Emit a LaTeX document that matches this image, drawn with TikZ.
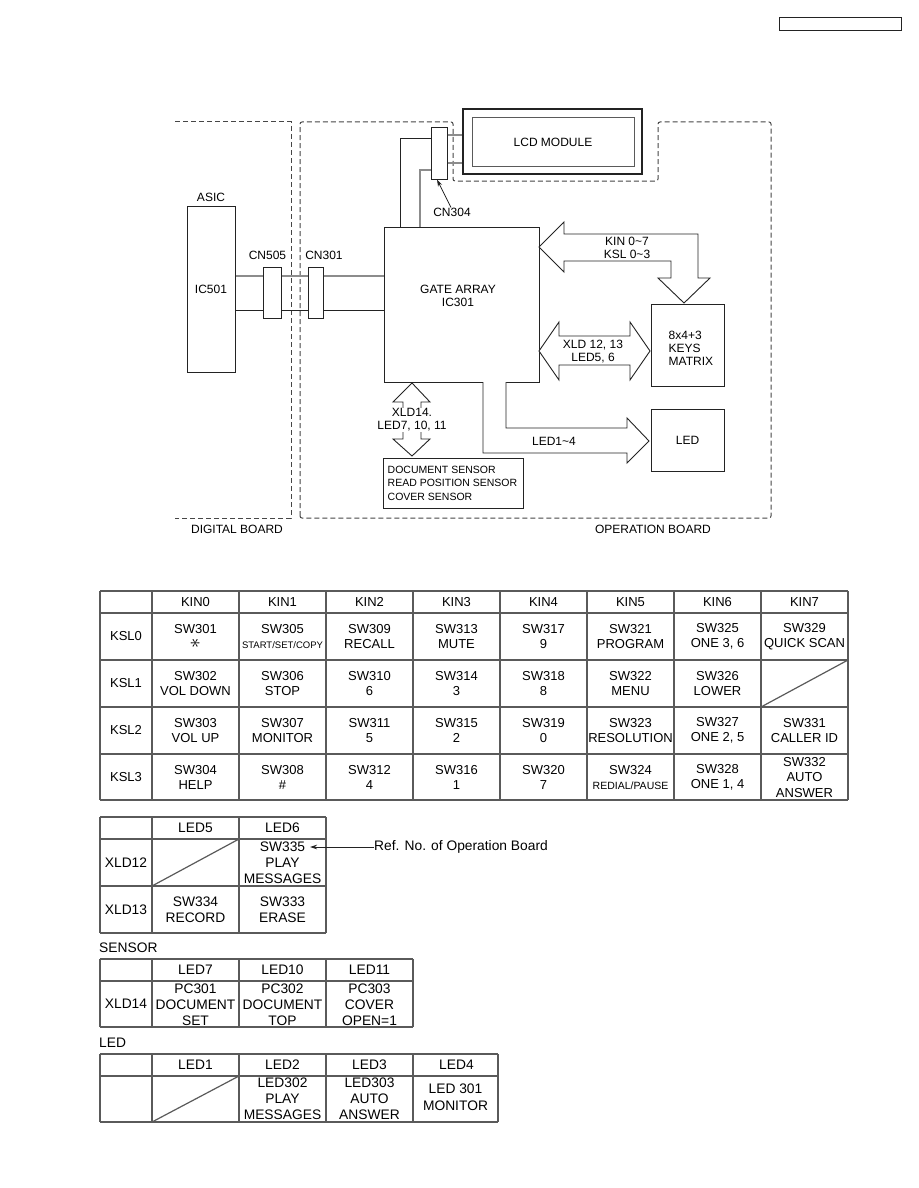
\documentclass[tikz,border=0pt]{standalone}
\usepackage{fontspec}
\setmainfont{Liberation Sans}
\usetikzlibrary{arrows.meta, positioning, calc}
\definecolor{mydark}{RGB}{35,35,35}
\definecolor{mygrid}{RGB}{90,90,90}
\definecolor{mydash}{RGB}{70,70,70}
\definecolor{mygray}{RGB}{140,140,140}
\newcommand{\dgfont}{\fontsize{12}{13}\selectfont}
\newcommand{\snfont}{\fontsize{10.5}{13.5}\selectfont}
\newcommand{\tabfont}{\fontsize{13}{15.5}\selectfont}
\newcommand{\subfont}{\fontsize{13.8}{16}\selectfont}
\tikzset{
  box/.style={rectangle, draw=mydark, line width=1pt, inner sep=0pt, font=\dgfont},
  conn/.style={rectangle, draw=mydark, line width=1pt, inner sep=0pt,
    minimum width=16pt, minimum height=51pt},
  wire/.style={draw=mydark, line width=1pt},
  gwire/.style={draw=mygray, line width=1.4pt},
  board/.style={draw=mydash, line width=1pt, dash pattern=on 5pt off 3pt},
  bus/.style={draw=mydark, line width=0.9pt, fill=white, line join=miter},
  lbl/.style={font=\dgfont, inner sep=0pt, align=center},
  ptr/.style={-{Stealth[length=7pt, width=4.5pt]}, draw=mydark, line width=0.8pt},
  grid/.style={draw=mygrid, line width=1.2pt},
  cell/.style={font=\tabfont, inner sep=0pt, align=center},
  subcell/.style={font=\subfont, inner sep=0pt, align=center}
}
\begin{document}
\begin{tikzpicture}[x=1pt, y=-1pt]
  \useasboundingbox[fill=white] (0,0) rectangle (918,1188);

  % page reference box
  \node[box, line width=1.3pt, minimum width=122pt, minimum height=13pt] (pagebox) at (840.5,24) {};

  % Board outlines
  \draw[board] (175,122) -- (291,122) -- (291,518) -- (175,518);
  \draw[board, rounded corners=2pt] (300,518) -- (300,122) -- (453,122) -- (453,181)
    -- (658,181) -- (658,122) -- (771,122) -- (771,518) -- cycle;
  \node[lbl] (digital) at (237,529) {DIGITAL BOARD};
  \node[lbl] (operation) at (653,529) {OPERATION BOARD};

  % ASIC and connectors
  \node[box, minimum width=48pt, minimum height=166pt] (asic) at (211,289) {IC501};
  \node[lbl, above=4pt of asic] (asiclbl) {ASIC};
  \node[conn, minimum width=18pt] (cn505) at (272,292.5) {};
  \node[conn, minimum width=15pt] (cn301) at (315.5,292.5) {};
  \node[lbl] (cn505lbl) at (267.5,255) {CN505};
  \node[lbl] (cn301lbl) at (324,255) {CN301};

  % Gate array
  \node[box, minimum width=155pt, minimum height=155pt] (gate) at (461.5,304.5) {};
  \node[lbl] (gatetxt) at (458,296) {GATE ARRAY\\IC301};

  \draw[gwire] (asic.east|-0,276) -- (cn505.west|-0,276)
    (cn505.east|-0,276) -- (cn301.west|-0,276)
    (cn301.east|-0,276) -- (gate.west|-0,276);
  \draw[wire] (asic.east|-0,310) -- (cn505.west|-0,310)
    (cn505.east|-0,310) -- (cn301.west|-0,310)
    (cn301.east|-0,310) -- (gate.west|-0,310);

  % LCD module
  \node[conn] (cn304) at (439,153.5) {};
  \node[box, line width=1.4pt, minimum width=179pt, minimum height=65pt] (lcd) at (552.5,141.5) {};
  \node[box, draw=mygrid, minimum width=162pt, minimum height=48pt] (lcdin) at (553,142) {LCD MODULE};
  \draw[gwire] (cn304.east|-0,135) -- (lcd.west|-0,135)
    (cn304.east|-0,163) -- (lcd.west|-0,163);
  \draw[wire] (gate.north-|400,0) |- (cn304.west|-0,139);
  \draw[gwire] (gate.north-|420,0) |- (cn304.west|-0,170);
  \node[lbl] (cn304lbl) at (452,212) {CN304};
  \draw[ptr] ([xshift=-1pt]cn304lbl.north) -- ([xshift=-2pt]cn304.south);

  % Keys matrix and LED
  \node[box, minimum width=73pt, minimum height=82pt] (keys) at (687.5,345) {};
  \node[lbl, align=left, anchor=west] (keystxt) at ([xshift=18pt,yshift=-3pt]keys.west) {8x4+3\\KEYS\\MATRIX};
  \node[box, minimum width=73pt, minimum height=62pt] (led) at (687.5,440) {LED};

  % Sensors
  \node[box, minimum width=140pt, minimum height=50pt] (sensor) at (453,483) {};
  \node[font=\snfont, inner sep=0pt, align=left, anchor=west] (sensortxt) at ([xshift=5pt]sensor.west)
    {DOCUMENT SENSOR\\READ POSITION SENSOR\\COVER SENSOR};

  % Buses
  \draw[bus] (539,247) -- (564,222) -- (564,234) -- (698,234) -- (698,278) -- (710,278)
    -- (684,303) -- (658,278) -- (671,278) -- (671,261) -- (564,261) -- (564,272) -- cycle;
  \node[lbl] (kinlbl) at (627,247.5) {KIN 0\textasciitilde 7\\KSL 0\textasciitilde 3};

  \draw[bus] (539,351) -- (559,322) -- (559,336) -- (630,336) -- (630,322) -- (650,351)
    -- (630,380) -- (630,365) -- (559,365) -- (559,380) -- cycle;
  \node[lbl] (xldlbl) at (593,351.5) {XLD 12, 13\\LED5, 6};

  \draw[bus] (483,382) -- (483,453) -- (627,453) -- (627,463) -- (649,441) -- (627,418)
    -- (627,428) -- (506,428) -- (506,382);
  \node[lbl] (ledlbl) at (554,441) {LED1\textasciitilde 4};

  \draw[bus] (412,383) -- (430,402) -- (421,402) -- (421,439) -- (430,439) -- (412,456)
    -- (393,439) -- (403,439) -- (403,402) -- (393,402) -- cycle;
  \node[lbl, fill=white, inner sep=1pt] (xld14lbl) at (412,420) {XLD14.\\LED7, 10, 11};

  % Key matrix table
  \foreach \x in {100,152,239,326,413,500,587,674,761,848}
    \draw[grid] (\x,591) -- (\x,800);
  \foreach \y in {591,613,660,707,754,800}
    \draw[grid] (100,\y) -- (848,\y);
  \draw[grid] (761,707) -- (848,660);
  \foreach \k in {0,...,7}
    \node[cell] (kin\k) at ({195.5+87*\k},602) {KIN\k};
  \foreach \j in {0,...,3}
    \node[cell] (ksl\j) at (126,{636.5+47*\j}) {KSL\j};
  \foreach \k/\j/\t in {
      0/0/{SW301\\\rotatebox{90}{\fontsize{22}{15.5}\selectfont$\ast$}}, 0/1/{SW302\\VOL DOWN}, 0/2/{SW303\\VOL UP}, 0/3/{SW304\\HELP},
      1/0/{SW305\\{\fontsize{9.5}{15.5}\selectfont START/SET/COPY}}, 1/1/{SW306\\STOP}, 1/2/{SW307\\MONITOR}, 1/3/{SW308\\\#},
      2/0/{SW309\\RECALL}, 2/1/{SW310\\6}, 2/2/{SW311\\5}, 2/3/{SW312\\4},
      3/0/{SW313\\MUTE}, 3/1/{SW314\\3}, 3/2/{SW315\\2}, 3/3/{SW316\\1},
      4/0/{SW317\\9}, 4/1/{SW318\\8}, 4/2/{SW319\\0}, 4/3/{SW320\\7},
      5/0/{SW321\\PROGRAM}, 5/1/{SW322\\MENU}, 5/2/{SW323\\RESOLUTION},
      5/3/{SW324\\{\fontsize{10.5}{15.5}\selectfont REDIAL/PAUSE}},
      6/0/{SW325\\ONE 3, 6}, 6/1/{SW326\\LOWER}, 6/2/{SW327\\ONE 2, 5}, 6/3/{SW328\\ONE 1, 4},
      7/0/{SW329\\QUICK SCAN}, 7/2/{SW331\\CALLER ID}, 7/3/{SW332\\AUTO\\ANSWER}}
    \node[cell] (sw\k\j) at ({195.5+87*\k},{636.5+47*\j}) {\t};

  % XLD12/13 table
  \foreach \x in {100,152,239,326}
    \draw[grid] (\x,817) -- (\x,933);
  \foreach \y in {817,839,886,933}
    \draw[grid] (100,\y) -- (326,\y);
  \draw[grid] (152,886) -- (239,839);
  \node[subcell] (led5) at (195.5,828) {LED5};
  \node[subcell] (led6) at (282.5,828) {LED6};
  \node[subcell] (xld12) at (126,862.5) {XLD12};
  \node[subcell] (xld13) at (126,909.5) {XLD13};
  \node[subcell] (sw335) at (282.5,862.5) {SW335\\PLAY\\MESSAGES};
  \node[subcell] (sw334) at (195.5,910) {SW334\\RECORD};
  \node[subcell] (sw333) at (282.5,910) {SW333\\ERASE};
  \node[subcell, anchor=west] (refno) at (374,847) {Ref. No. of Operation Board};
  \draw[ptr] (refno.west) -- +(-64,0);

  % Sensor table
  \node[subcell, anchor=west] (sensorhd) at (99,948) {SENSOR};
  \foreach \x in {100,152,239,326,413}
    \draw[grid] (\x,959) -- (\x,1027);
  \foreach \y in {959,981,1027}
    \draw[grid] (100,\y) -- (413,\y);
  \node[subcell] (led7) at (195.5,970) {LED7};
  \node[subcell] (led10) at (282.5,970) {LED10};
  \node[subcell] (led11) at (369.5,970) {LED11};
  \node[subcell] (xld14) at (126,1004) {XLD14};
  \node[subcell] (pc301) at (195.5,1004.5) {PC301\\DOCUMENT\\SET};
  \node[subcell] (pc302) at (282.5,1004.5) {PC302\\DOCUMENT\\TOP};
  \node[subcell] (pc303) at (369.5,1004.5) {PC303\\COVER\\OPEN=1};

  % LED table
  \node[subcell, anchor=west] (ledhd) at (99,1043) {LED};
  \foreach \x in {100,152,239,326,413,498}
    \draw[grid] (\x,1054) -- (\x,1122);
  \foreach \y in {1054,1076,1122}
    \draw[grid] (100,\y) -- (498,\y);
  \draw[grid] (152,1122) -- (239,1076);
  \foreach \k in {1,...,4}
    \node[subcell] (ledh\k) at ({108.5+87*\k},1065) {LED\k};
  \node[subcell] (led302) at (282.5,1099) {LED302\\PLAY\\MESSAGES};
  \node[subcell] (led303) at (369.5,1099) {LED303\\AUTO\\ANSWER};
  \node[subcell, font=\fontsize{13.8}{17.5}\selectfont] (led301) at (455.5,1097) {LED 301\\MONITOR};
\end{tikzpicture}
\end{document}
